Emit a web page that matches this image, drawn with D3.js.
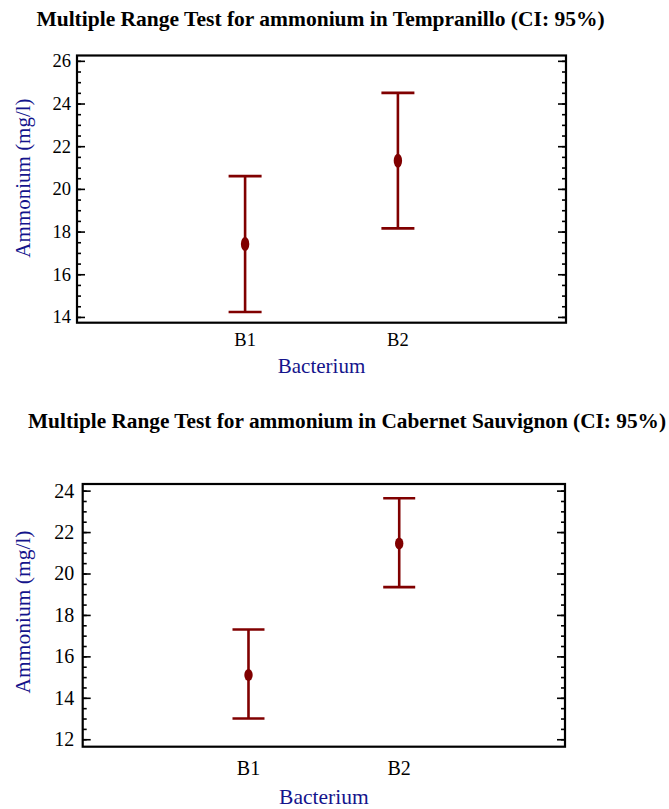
<!DOCTYPE html>
<html lang="en">
<head>
<meta charset="utf-8">
<title>Multiple Range Test for ammonium</title>
<script src="https://cdn.jsdelivr.net/npm/d3@7"></script>
<style>
  body { margin: 0; background: #fff; }
  svg text { font-family: "Liberation Serif", "Times New Roman", serif; }
</style>
</head>
<body>
<div id="my_dataviz"></div>
<script>

// data
var categories = ["B1", "B2"];

var tempMean  = [17.42, 21.32];
var tempLower = [14.23, 18.15];
var tempUpper = [20.6, 24.5];
var tempTicks = [14, 16, 18, 20, 22, 24, 26];

var cabMean  = [15.1, 21.45];
var cabLower = [13.0, 19.34];
var cabUpper = [17.3, 23.63];
var cabTicks = [12, 14, 16, 18, 20, 22, 24];

var markColor = "#800000",
    titleColor = "#14148c";

var svg = d3.select("#my_dataviz")
  .append("svg")
    .attr("width", 669)
    .attr("height", 809);

function drawChart(opt) {
  var g = svg.append("g");
  var left = opt.box[0], top = opt.box[1], right = opt.box[2], bottom = opt.box[3];

  var x = d3.scaleLinear().domain([-1.1, 2.1]).range([left, right]);
  var y = d3.scaleLinear().domain(opt.yDomain).range([bottom, top]);

  // title
  g.append("text")
    .attr("x", opt.titlePos[0])
    .attr("y", opt.titlePos[1])
    .attr("text-anchor", "middle")
    .style("font-weight", "bold")
    .style("font-size", opt.titleSize + "px")
    .text(opt.title);

  // minor ticks every 0.5
  var minor = d3.range(opt.ticks[0], opt.ticks[opt.ticks.length - 1] + 0.01, 0.5);
  g.append("g")
    .attr("transform", "translate(" + left + ",0)")
    .call(d3.axisLeft(y).tickValues(minor).tickSize(-4).tickFormat(""))
    .call(function(a) { a.select(".domain").remove(); })
    .selectAll("line").attr("stroke-width", 1.6);
  g.append("g")
    .attr("transform", "translate(" + right + ",0)")
    .call(d3.axisRight(y).tickValues(minor).tickSize(-4).tickFormat(""))
    .call(function(a) { a.select(".domain").remove(); })
    .selectAll("line").attr("stroke-width", 1.6);

  // major ticks + labels
  var yl = g.append("g")
    .attr("transform", "translate(" + left + ",0)")
    .call(d3.axisLeft(y).tickValues(opt.ticks).tickSize(-8).tickPadding(opt.tickPad));
  yl.select(".domain").remove();
  yl.selectAll("line").attr("stroke-width", 1.6);
  yl.selectAll("text")
    .style("font-size", opt.tickSize + "px")
    .attr("fill", "#000")
    .attr("font-family", null);
  g.append("g")
    .attr("transform", "translate(" + right + ",0)")
    .call(d3.axisRight(y).tickValues(opt.ticks).tickSize(-8).tickFormat(""))
    .call(function(a) { a.select(".domain").remove(); })
    .selectAll("line").attr("stroke-width", 1.6);

  // frame
  g.append("rect")
    .attr("x", left).attr("y", top)
    .attr("width", right - left).attr("height", bottom - top)
    .attr("fill", "none")
    .attr("stroke", "#000")
    .attr("stroke-width", 2.2);

  // x category labels
  g.selectAll(".xlab")
    .data(categories)
    .enter()
    .append("text")
      .attr("x", function(d, i) { return x(i); })
      .attr("y", opt.xLabelY)
      .attr("text-anchor", "middle")
      .style("font-size", opt.tickSize + "px")
      .text(function(d) { return d; });

  // axis titles
  g.append("text")
    .attr("x", (left + right) / 2)
    .attr("y", opt.xTitleY)
    .attr("text-anchor", "middle")
    .attr("fill", titleColor)
    .style("font-size", opt.axisTitleSize + "px")
    .text("Bacterium");
  g.append("text")
    .attr("transform", "translate(" + opt.yTitlePos[0] + "," + opt.yTitlePos[1] + ")rotate(-90)")
    .attr("text-anchor", "middle")
    .attr("fill", titleColor)
    .style("font-size", opt.axisTitleSize + "px")
    .text("Ammonium (mg/l)");

  // error bars
  var bars = g.selectAll(".bar")
    .data(categories)
    .enter()
    .append("g");
  bars.append("line")
    .attr("x1", function(d, i) { return x(i); })
    .attr("x2", function(d, i) { return x(i); })
    .attr("y1", function(d, i) { return y(opt.upper[i]); })
    .attr("y2", function(d, i) { return y(opt.lower[i]); })
    .attr("stroke", markColor).attr("stroke-width", 2.6);
  [opt.upper, opt.lower].forEach(function(arr) {
    bars.append("line")
      .attr("x1", function(d, i) { return x(i) - opt.cap; })
      .attr("x2", function(d, i) { return x(i) + opt.cap; })
      .attr("y1", function(d, i) { return y(arr[i]); })
      .attr("y2", function(d, i) { return y(arr[i]); })
      .attr("stroke", markColor).attr("stroke-width", 2.6);
  });
  bars.append("ellipse")
    .attr("cx", function(d, i) { return x(i); })
    .attr("cy", function(d, i) { return y(opt.mean[i]); })
    .attr("rx", 4.2)
    .attr("ry", opt.dotRy)
    .attr("fill", markColor);
}

drawChart({
  title: "Multiple Range Test for ammonium in Tempranillo (CI: 95%)",
  titlePos: [320.5, 26], titleSize: 21.5,
  box: [77, 55.5, 566, 322.7],
  yDomain: [13.73, 26.25],
  ticks: tempTicks, tickSize: 18.5, tickPad: 6,
  xLabelY: 346, xTitleY: 373, axisTitleSize: 21,
  yTitlePos: [30, 178],
  mean: tempMean, lower: tempLower, upper: tempUpper,
  cap: 16.5, dotRy: 7
});

drawChart({
  title: "Multiple Range Test for ammonium in Cabernet Sauvignon (CI: 95%)",
  titlePos: [347, 428], titleSize: 21.3,
  box: [82.7, 484, 565, 746.7],
  yDomain: [11.64, 24.32],
  ticks: cabTicks, tickSize: 20, tickPad: 8.5,
  xLabelY: 775, xTitleY: 804, axisTitleSize: 21.5,
  yTitlePos: [30, 612],
  mean: cabMean, lower: cabLower, upper: cabUpper,
  cap: 16, dotRy: 6
});

</script>
</body>
</html>
